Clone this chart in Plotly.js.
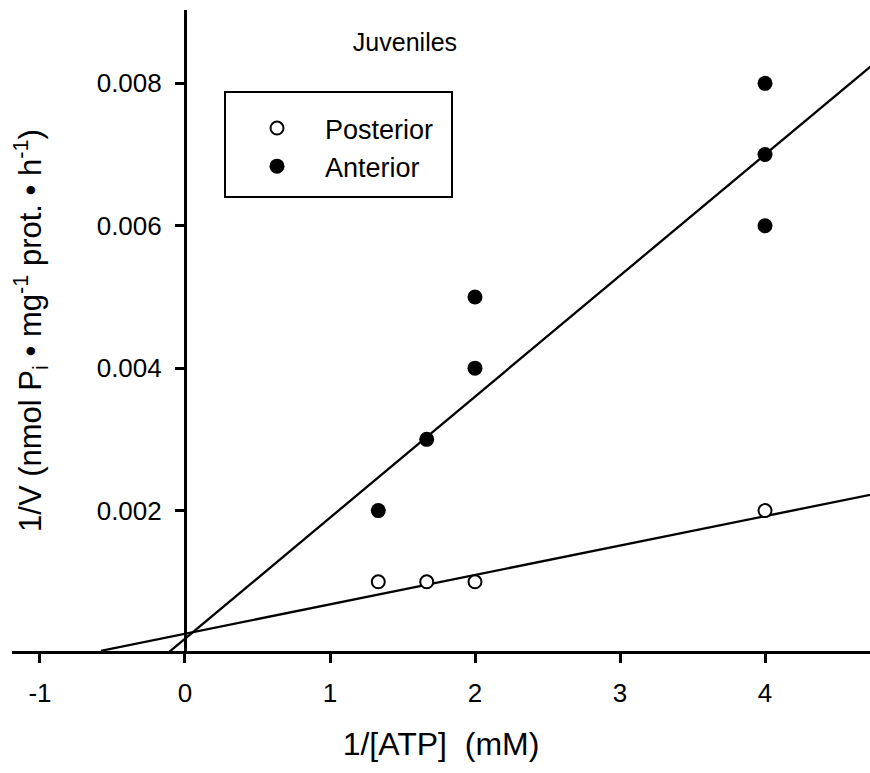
<!DOCTYPE html>
<html>
<head>
<meta charset="utf-8">
<script src="https://cdn.plot.ly/plotly-3.0.1.min.js"></script>
<style>html,body{margin:0;padding:0;background:#fff;}#chart{width:870px;height:773px;}</style>
</head>
<body>
<div id="chart"></div>
<script>
// Data
const posteriorX = [1.333, 1.667, 2, 4];
const posteriorY = [0.001, 0.001, 0.001, 0.002];
const anteriorX = [1.333, 1.667, 2, 2, 4, 4, 4];
const anteriorY = [0.002, 0.003, 0.004, 0.005, 0.006, 0.007, 0.008];
// Fitted lines as drawn in the reference (intercept, slope, x start, x end)
const lineNames = ['Posterior fit', 'Anterior fit'];
const lineIntercept = [0.00027, 0.00020];
const lineSlope = [0.000413, 0.00170];
const lineXStart = [-0.58, -0.12];
const lineXEnd = [4.8, 4.8];
const xTickVals = [-1, 0, 1, 2, 3, 4];
const xTickText = ['-1', '0', '1', '2', '3', '4'];
const yTickVals = [0.002, 0.004, 0.006, 0.008];
const yTickText = ['0.002', '0.004', '0.006', '0.008'];

const FONT = 'Liberation Sans, Arial, sans-serif';
const W = 870, H = 773, ML = 12, MR = 0, MT = 10, MB = 122;
const pw = W - ML - MR, ph = H - MT - MB;
const px2x = p => (p - ML) / pw;
const px2y = p => (H - MB - p) / ph;

const traces = [];
for (let i = 0; i < lineNames.length; i++) {
  const xs = [lineXStart[i], lineXEnd[i]];
  traces.push({
    type: 'scatter', mode: 'lines', name: lineNames[i], showlegend: false,
    x: xs, y: xs.map(v => lineIntercept[i] + lineSlope[i] * v),
    line: {color: '#000', width: 2.3}, hoverinfo: 'skip'
  });
}
traces.push({
  type: 'scatter', mode: 'markers', name: 'Posterior',
  x: posteriorX, y: posteriorY, cliponaxis: false,
  marker: {symbol: 'circle', size: 13, color: '#fff', line: {color: '#000', width: 2}}
});
traces.push({
  type: 'scatter', mode: 'markers', name: 'Anterior',
  x: anteriorX, y: anteriorY, cliponaxis: false,
  marker: {symbol: 'circle', size: 15, color: '#000', line: {color: '#000', width: 0}}
});

const layout = {
  width: W, height: H,
  paper_bgcolor: '#fff', plot_bgcolor: '#fff',
  margin: {l: ML, r: MR, t: MT, b: MB},
  font: {family: FONT, color: '#000', size: 26},
  title: {text: 'Juveniles', font: {family: FONT, size: 25, color: '#000'},
          x: 0.4655, xanchor: 'center', y: 0.9457, yanchor: 'middle'},
  showlegend: true,
  legend: {
    x: px2x(229), y: px2y(104), xanchor: 'left', yanchor: 'top',
    bgcolor: 'rgba(0,0,0,0)', borderwidth: 0,
    font: {family: FONT, size: 27, color: '#000'},
    itemwidth: 86, tracegroupgap: 0
  },
  shapes: [{
    type: 'rect', xref: 'paper', yref: 'paper',
    x0: px2x(225), x1: px2x(452), y0: px2y(197), y1: px2y(92),
    line: {color: '#000', width: 2}, fillcolor: 'rgba(0,0,0,0)', layer: 'above'
  }],
  xaxis: {
    range: [-1.193, 4.724], autorange: false,
    showgrid: false, zeroline: false,
    showline: true, linecolor: '#000', linewidth: 3, mirror: false,
    ticks: 'outside', ticklen: 9, tickwidth: 3, tickcolor: '#000',
    tickvals: xTickVals, ticktext: xTickText,
    tickfont: {family: FONT, size: 26, color: '#000'},
    ticklabelstandoff: 8,
    title: {text: '1/[ATP]  (mM)', font: {family: FONT, size: 32, color: '#000'}, standoff: 26}
  },
  yaxis: {
    range: [0.000028, 0.00903], autorange: false,
    anchor: 'free', position: 0.2016,
    showgrid: false, zeroline: false,
    showline: true, linecolor: '#000', linewidth: 3,
    ticks: 'outside', ticklen: 9, tickwidth: 3, tickcolor: '#000',
    tickvals: yTickVals, ticktext: yTickText,
    tickfont: {family: FONT, size: 26, color: '#000'},
    ticklabelstandoff: 8,
    title: {text: '1/V (nmol P<sub>i</sub> • mg<sup>-1</sup> prot. • h<sup>-1</sup>)',
            font: {family: FONT, size: 31, color: '#000'}, standoff: 44}
  }
};

Plotly.newPlot('chart', traces, layout, {displayModeBar: false, staticPlot: true});
</script>
</body>
</html>
